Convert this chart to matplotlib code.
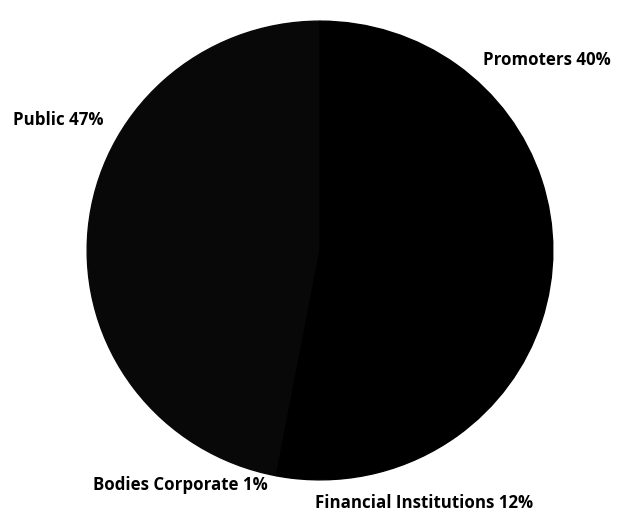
import matplotlib
matplotlib.use("Agg")
import matplotlib.pyplot as plt

categories = ["Public", "Bodies Corporate", "Financial Institutions", "Promoters"]
shares = [47, 1, 12, 40]
colors = ["#080808", "#000000", "#000000", "#000000"]

fig = plt.figure(figsize=(6.31, 5.15), dpi=100)
W, H = 631, 515
cx0, cx1, cy0, cy1 = 86, 554, 20, 481
ax = fig.add_axes([cx0 / W, 1 - cy1 / H, (cx1 - cx0) / W, (cy1 - cy0) / H])
wedges, _ = ax.pie(shares, colors=colors, startangle=90, counterclock=True,
                   wedgeprops=dict(linewidth=1.0))
for w, c in zip(wedges, colors):
    w.set_edgecolor(c)
ax.set_aspect("auto")
ax.set_xlim(-1.005, 1.005)
ax.set_ylim(-1.005, 1.005)
ax.axis("off")

label_pos = {"Promoters": (483, 60), "Public": (13, 120),
             "Bodies Corporate": (93, 485), "Financial Institutions": (315, 503)}
for cat, val in zip(categories, shares):
    x, y = label_pos[cat]
    fig.text(x / W, 1 - y / H, f"{cat} {val}%", ha="left", va="center",
             fontsize=12.2, fontweight="bold", family="Open Sans", color="black")

fig.savefig("out.png", dpi=100)
